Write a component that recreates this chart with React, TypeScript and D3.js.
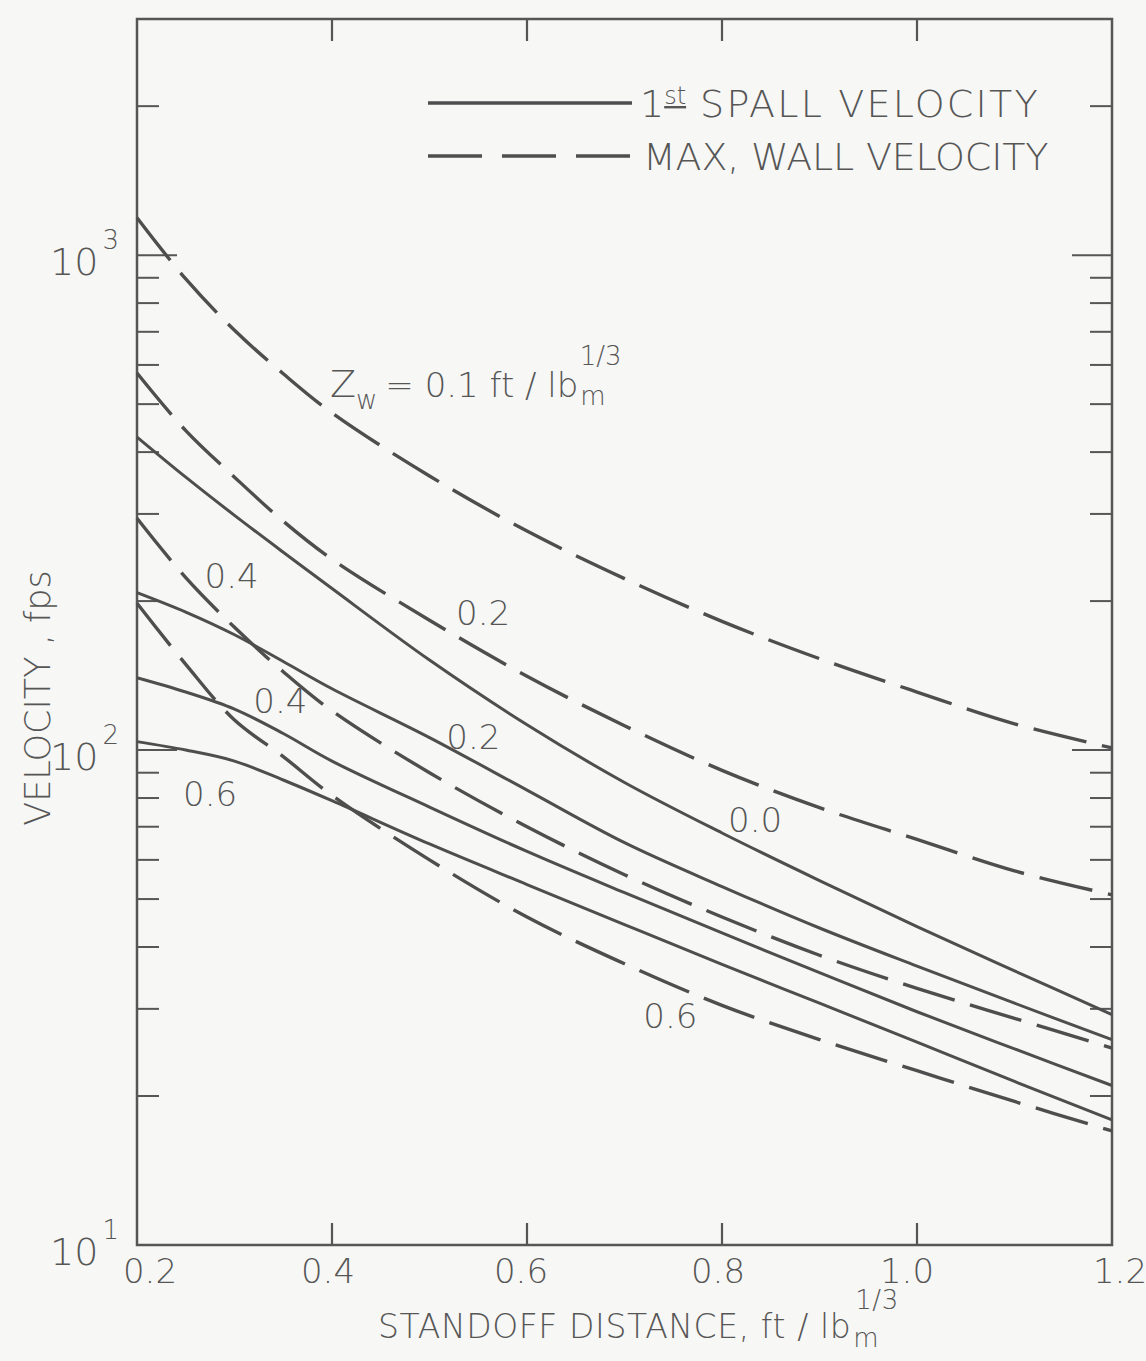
import React from 'react';
import * as d3 from 'd3';

// standoff distance, ft/lbm^1/3
const standoff = [0.2, 0.25, 0.3, 0.35, 0.4, 0.5, 0.6, 0.7, 0.8, 0.9, 1.0, 1.1, 1.2];

// 1st spall velocity (solid), fps
const spall00 = [429, 356, 298, 251, 212, 152, 112.5, 86, 68, 54.5, 44, 35.8, 29.2];
const spall02 = [208, 190, 171, 151, 133, 106, 83, 65, 53, 43.7, 36.6, 30.8, 26];
const spall04 = [140, 131, 121, 108, 95, 76.7, 62.4, 51.5, 42.7, 35.5, 29.6, 24.9, 21];
const spall06 = [104, 100, 95, 87, 79, 64.6, 53.5, 44.4, 36.9, 30.8, 25.7, 21.4, 17.9];

// max. wall velocity (dashed), fps
const wall01 = [1190, 895, 705, 576, 480, 358, 277, 222, 182, 153, 131, 113, 101];
const wall02 = [578, 442, 356, 290, 243, 183, 141, 112, 91, 76.5, 66, 57, 51];
const wall04 = [294, 223, 177, 144, 120, 90, 70, 56, 46, 38.5, 33, 28.7, 25];
const wall06 = [198, 149, 115, 97, 81, 60, 46, 37, 30.5, 26, 22.5, 19.5, 17];

const solidSeries = [spall00, spall02, spall04, spall06];
const dashedSeries = [wall01, wall02, wall04, wall06];

// curve labels: [text, standoff, velocity]
const curveLabels: [string, number, number][] = [
  ['0.4', 0.297, 222],
  ['0.2', 0.555, 187],
  ['0.4', 0.347, 124],
  ['0.2', 0.545, 105],
  ['0.0', 0.834, 71.4],
  ['0.6', 0.275, 80.5],
  ['0.6', 0.747, 28.7],
];

const xTicks = [0.2, 0.4, 0.6, 0.8, 1.0, 1.2];
const yMajor = [10, 100, 1000];
const yMinor = [20, 30, 40, 50, 60, 70, 80, 90, 200, 300, 400, 500, 600, 700, 800, 900, 2000];

const W = 1146;
const H = 1361;
const INK = '#565656';
const FONT = '"DejaVu Sans", sans-serif';

export default function App() {
  const x = d3.scaleLinear().domain([0.2, 1.2]).range([137, 1112]);
  const y = d3.scaleLog().domain([10, 3000]).range([1245, 19]);

  const line = d3
    .line<number>()
    .x((_, i) => x(standoff[i]))
    .y((d) => y(d))
    .curve(d3.curveCatmullRom.alpha(0.5));

  const [x0, x1] = x.range();
  const [yb, yt] = y.range();

  const txt = { fill: INK, fontFamily: FONT, fontWeight: 200 } as const;
  const xLabelShift = [13, -4, -6, -4, -10, 8];

  return (
    <svg width={W} height={H} style={{ position: 'absolute', left: 0, top: 0, background: '#f7f7f5' }}>
      <rect x={0} y={0} width={W} height={H} fill="#f7f7f5" />

      {/* frame */}
      <rect x={x0} y={yt} width={x1 - x0} height={yb - yt} fill="none" stroke={INK} strokeWidth={2.5} />

      {/* x ticks, bottom and top */}
      {xTicks.slice(1, -1).map((t) => (
        <g key={'xt' + t}>
          <line x1={x(t)} x2={x(t)} y1={yb} y2={yb - 22} stroke={INK} strokeWidth={2.2} />
          <line x1={x(t)} x2={x(t)} y1={yt} y2={yt + 22} stroke={INK} strokeWidth={2.2} />
        </g>
      ))}

      {/* y ticks, both sides */}
      {yMinor.map((t) => (
        <g key={'ym' + t}>
          <line x1={x0} x2={x0 + 22} y1={y(t)} y2={y(t)} stroke={INK} strokeWidth={2} />
          <line x1={x1} x2={x1 - 22} y1={y(t)} y2={y(t)} stroke={INK} strokeWidth={2} />
        </g>
      ))}
      {yMajor.slice(1).map((t) => (
        <g key={'yM' + t}>
          <line x1={x0} x2={x0 + 40} y1={y(t)} y2={y(t)} stroke={INK} strokeWidth={2} />
          <line x1={x1} x2={x1 - 40} y1={y(t)} y2={y(t)} stroke={INK} strokeWidth={2} />
        </g>
      ))}

      {/* curves */}
      {solidSeries.map((s, i) => (
        <path key={'s' + i} d={line(s) || ''} fill="none" stroke="#4e4e4e" strokeWidth={3} />
      ))}
      {dashedSeries.map((s, i) => (
        <path key={'d' + i} d={line(s) || ''} fill="none" stroke="#4e4e4e" strokeWidth={3.4} strokeDasharray="54 16" />
      ))}

      {/* x tick labels */}
      {xTicks.map((t, i) => (
        <text key={'xl' + t} x={x(t) + xLabelShift[i]} y={yb + 38} textAnchor="middle" fontSize={34} {...txt}>
          {t.toFixed(1)}
        </text>
      ))}

      {/* y tick labels */}
      {yMajor.map((t) => (
        <text key={'yl' + t} x={x0 - 18} y={y(t) + 20} textAnchor="end" fontSize={38} {...txt}>
          10
          <tspan fontSize={26} dy={-26} dx={4}>
            {Math.round(Math.log10(t))}
          </tspan>
        </text>
      ))}

      {/* axis titles */}
      <text transform={`translate(50, 698) rotate(-90)`} textAnchor="middle" fontSize={35} {...txt}>
        VELOCITY , fps
      </text>
      <text x={378} y={1338} fontSize={33} letterSpacing={0.6} {...txt}>
        STANDOFF DISTANCE, ft / lb
        <tspan fontSize={26} dy={9} dx={2}>m</tspan>
        <tspan fontSize={26} dy={-38} dx={-24}>1/3</tspan>
      </text>

      {/* legend */}
      <line x1={428} x2={632} y1={103} y2={103} stroke="#4e4e4e" strokeWidth={3.4} />
      <text x={640} y={117} fontSize={38} {...txt}>
        1
        <tspan fontSize={24} dy={-13} textDecoration="underline">st</tspan>
        <tspan dy={13} dx={14} letterSpacing={2.2}>SPALL VELOCITY</tspan>
      </text>
      <line x1={428} x2={632} y1={156} y2={156} stroke="#4e4e4e" strokeWidth={3.4} strokeDasharray="54 20" />
      <text x={643} y={170} fontSize={38} letterSpacing={-0.2} {...txt}>
        MAX, WALL VELOCITY
      </text>

      {/* Zw label */}
      <text x={x(0.398)} y={y(548) + 13} fontSize={38} {...txt}>
        Z
        <tspan fontSize={26} dy={12}>w</tspan>
        <tspan fontSize={34} dy={-12} dx={8}>= 0.1 ft / lb</tspan>
        <tspan fontSize={26} dy={8} dx={2}>m</tspan>
        <tspan fontSize={26} dy={-40} dx={-26}>1/3</tspan>
      </text>

      {/* curve labels */}
      {curveLabels.map(([t, s, v], i) => (
        <text key={'cl' + i} x={x(s)} y={y(v)} textAnchor="middle" dominantBaseline="middle" fontSize={34} {...txt}>
          {t}
        </text>
      ))}
    </svg>
  );
}
